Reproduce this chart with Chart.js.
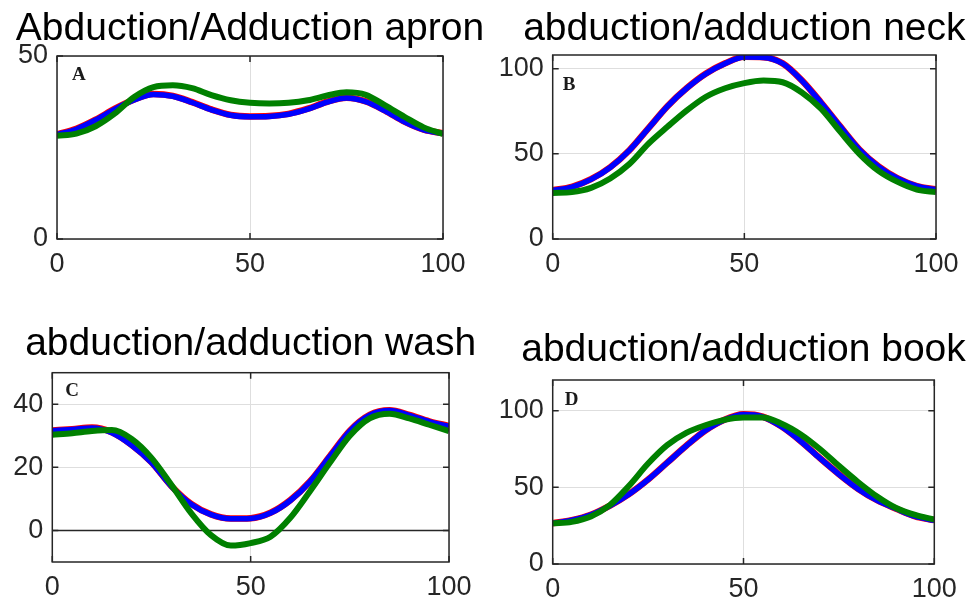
<!DOCTYPE html>
<html>
<head>
<meta charset="utf-8">
<script src="https://cdn.jsdelivr.net/npm/chart.js@4.4.0/dist/chart.umd.min.js"></script>
<style>
  html, body { margin: 0; padding: 0; background: #fff; }
  body { width: 973px; height: 601px; position: relative; overflow: hidden; }
  .panel { position: absolute; }
</style>
</head>
<body>
<div class="panel" style="left:0;top:0;width:490px;height:300px"><canvas id="chartA"></canvas></div>
<div class="panel" style="left:490px;top:0;width:483px;height:300px"><canvas id="chartB"></canvas></div>
<div class="panel" style="left:0;top:300px;width:490px;height:301px"><canvas id="chartC"></canvas></div>
<div class="panel" style="left:490px;top:300px;width:483px;height:301px"><canvas id="chartD"></canvas></div>
<script>
// x axis: % of movement cycle
const xPct = [0, 5, 10, 15, 20, 25, 30, 35, 40, 45, 50, 55, 60, 65, 70, 75, 80, 85, 90, 95, 100];
const xTicks = [0, 50, 100];

const titles = ['Abduction/Adduction apron', 'abduction/adduction neck', 'abduction/adduction wash', 'abduction/adduction book'];
const letters = ['A', 'B', 'C', 'D'];

// A - apron
const apronRed   = [28.6, 30.1, 32.6, 35.6, 38.1, 39.6, 39.1, 37.4, 35.4, 33.9, 33.5, 33.6, 34.2, 35.6, 37.5, 38.6, 37.6, 35.1, 32.1, 29.9, 28.9];
const apronBlue  = [28.5, 30, 32.5, 35.5, 38, 39.5, 39, 37.3, 35.3, 33.8, 33.4, 33.5, 34.1, 35.5, 37.4, 38.5, 37.5, 35, 32, 29.8, 28.8];
const apronGreen = [28.2, 28.8, 30.8, 34.3, 38.8, 41.5, 42, 41.2, 39.3, 37.9, 37.2, 37, 37.2, 37.9, 39.2, 40.1, 39.4, 36.5, 33.4, 30.5, 28.7];
const apronYRange = [0, 50];
const apronYTicks = [0, 50];

// B - neck
const neckRed   = [28.6, 30.6, 35.1, 42.1, 52.1, 65.1, 78.1, 88.6, 97.1, 103.1, 106.9, 106.7, 103.1, 93.1, 80.1, 66.1, 52.6, 42.6, 35.6, 31.1, 29.1];
const neckBlue  = [28.5, 30.5, 35, 42, 52, 65, 78, 88.5, 97, 103, 106.8, 106.6, 103, 93, 80, 66, 52.5, 42.5, 35.5, 31, 29];
const neckGreen = [27, 27.5, 30, 35.5, 44, 56, 66, 75.5, 83.5, 88.5, 91.5, 93, 92, 86, 76.5, 63, 50, 40, 33.5, 29, 27.5];
const neckYRange = [0, 108];
const neckYTicks = [0, 50, 100];

// C - wash
const washRed   = [31.7, 32.1, 32.6, 31.1, 27.1, 21.6, 14.1, 8.4, 5.1, 3.8, 3.9, 5.6, 9.6, 15.6, 23.6, 31.6, 36.6, 38.1, 36.6, 34.6, 33.1];
const washBlue  = [31.6, 32, 32.5, 31, 27, 21.5, 14, 8.3, 5, 3.7, 3.8, 5.5, 9.5, 15.5, 23.5, 31.5, 36.5, 38, 36.5, 34.5, 33];
const washGreen = [30.3, 30.8, 31.5, 31.8, 29, 23, 14.5, 5.5, -1.5, -4.8, -4, -2, 4, 12.5, 21.5, 30, 35.5, 37, 35.5, 33.5, 31.5];
const washZeroX = [0, 100];
const washZeroY = [0, 0];
const washYRange = [-10, 50];
const washYTicks = [0, 20, 40];

// D - book
const bookRed   = [26.6, 28.6, 32.1, 38.1, 45.6, 55.1, 66.1, 77.1, 87.1, 94.1, 97.6, 96.1, 89.6, 80.1, 69.1, 58.6, 49.1, 41.6, 36.1, 31.1, 28.6];
const bookBlue  = [26.5, 28.5, 32, 38, 45.5, 55, 66, 77, 87, 94, 97.5, 96, 89.5, 80, 69, 58.5, 49, 41.5, 36, 31, 28.5];
const bookGreen = [26.5, 27.5, 31, 38.5, 51, 65.5, 77.5, 85.5, 90.5, 94, 95.5, 95.5, 91.5, 84.5, 75, 64, 53.5, 44, 36.5, 32, 29];
const bookYRange = [0, 120];
const bookYTicks = [0, 50, 100];

const pts = (xs, ys) => xs.map((x, i) => ({ x: x, y: ys[i] }));

// box + inward ticks + panel letter, drawn over the curves like matlab does
const axesBox = {
  id: 'axesBox',
  afterLayout(chart) {
    // title box = plot width by default, which squeezes the long titles;
    // widen it but keep it centred over the plot
    const t = chart.titleBlock;
    const cx = (chart.chartArea.left + chart.chartArea.right) / 2;
    t.left = cx - 300;
    t.right = cx + 300;
    t.width = 600;
  },
  afterDatasetsDraw(chart, args, opts) {
    const { ctx, chartArea: a, scales } = chart;
    const tl = 6;
    ctx.save();
    ctx.strokeStyle = '#262626';
    ctx.lineWidth = 1.5;
    ctx.beginPath();
    scales.x.ticks.forEach(t => {
      const px = scales.x.getPixelForValue(t.value);
      ctx.moveTo(px, a.bottom); ctx.lineTo(px, a.bottom - tl);
      ctx.moveTo(px, a.top); ctx.lineTo(px, a.top + tl);
    });
    scales.y.ticks.forEach(t => {
      const py = scales.y.getPixelForValue(t.value);
      ctx.moveTo(a.left, py); ctx.lineTo(a.left + tl, py);
      ctx.moveTo(a.right, py); ctx.lineTo(a.right - tl, py);
    });
    ctx.stroke();
    ctx.strokeRect(a.left, a.top, a.right - a.left, a.bottom - a.top);
    ctx.fillStyle = '#1a1a1a';
    ctx.font = 'bold 19px "Liberation Serif", "Times New Roman", serif';
    ctx.textBaseline = 'alphabetic';
    ctx.fillText(opts.letter, a.left + opts.dx, a.top + opts.dy);
    ctx.restore();
  }
};

function makeChart(cfg) {
  const datasets = [
    { data: pts(xPct, cfg.green), borderColor: '#008000', borderWidth: 6 },
    { data: pts(xPct, cfg.blue), borderColor: '#0000ff', borderWidth: 5.5 },
    { data: pts(xPct, cfg.red), borderColor: '#ff0000', borderWidth: 6.5 }
  ];
  if (cfg.zero) {
    datasets.push({ data: pts(cfg.zero[0], cfg.zero[1]), borderColor: '#262626', borderWidth: 1.5, tension: 0 });
  }
  datasets.forEach(d => {
    d.pointRadius = 0;
    d.fill = false;
    d.clip = 0;
    if (d.tension === undefined) { d.tension = 0.4; d.cubicInterpolationMode = 'monotone'; }
  });

  return new Chart(document.getElementById(cfg.id), {
    type: 'line',
    data: { datasets: datasets },
    plugins: [axesBox],
    options: {
      responsive: true,
      maintainAspectRatio: false,
      animation: false,
      events: [],
      layout: { padding: { left: 0, right: cfg.rightPad, top: 0, bottom: 0 } },
      plugins: {
        legend: { display: false },
        tooltip: { enabled: false },
        title: {
          display: true,
          text: cfg.title,
          color: '#000',
          font: { family: '"Liberation Sans", Arial, sans-serif', size: 39, weight: 'normal' },
          padding: cfg.titlePad
        },
        axesBox: { letter: cfg.letter, dx: cfg.letterAt[0], dy: cfg.letterAt[1] }
      },
      scales: {
        x: {
          type: 'linear',
          min: 0,
          max: 100,
          afterBuildTicks: s => { s.ticks = xTicks.map(v => ({ value: v })); },
          afterFit: s => { s.height = cfg.xAxisH; },
          grid: { color: '#dedede', lineWidth: 1, drawTicks: false },
          border: { display: false },
          ticks: { color: '#262626', padding: 9, maxRotation: 0, font: { family: '"Liberation Sans", Arial, sans-serif', size: 27 } }
        },
        y: {
          min: cfg.yRange[0],
          max: cfg.yRange[1],
          afterBuildTicks: s => { s.ticks = cfg.yTicks.map(v => ({ value: v })); },
          afterFit: s => { s.width = cfg.plotLeft; },
          grid: { color: '#dedede', lineWidth: 1, drawTicks: false },
          border: { display: false },
          ticks: { color: '#262626', padding: 9, font: { family: '"Liberation Sans", Arial, sans-serif', size: 27 } }
        }
      }
    }
  });
}

makeChart({ id: 'chartA', title: titles[0], letter: letters[0], red: apronRed, blue: apronBlue, green: apronGreen,
  yRange: apronYRange, yTicks: apronYTicks, plotLeft: 57, rightPad: 47, xAxisH: 61,
  titlePad: { top: 5.6, bottom: 3.6 }, letterAt: [15, 24] });
makeChart({ id: 'chartB', title: titles[1], letter: letters[1], red: neckRed, blue: neckBlue, green: neckGreen,
  yRange: neckYRange, yTicks: neckYTicks, plotLeft: 62.7, rightPad: 37, xAxisH: 61,
  titlePad: { top: 5.6, bottom: 2.6 }, letterAt: [10, 35] });
makeChart({ id: 'chartC', title: titles[2], letter: letters[2], red: washRed, blue: washBlue, green: washGreen,
  zero: [washZeroX, washZeroY],
  yRange: washYRange, yTicks: washYTicks, plotLeft: 52.3, rightPad: 41, xAxisH: 39,
  titlePad: { top: 20.6, bottom: 5.3 }, letterAt: [13, 23] });
makeChart({ id: 'chartD', title: titles[3], letter: letters[3], red: bookRed, blue: bookBlue, green: bookGreen,
  yRange: bookYRange, yTicks: bookYTicks, plotLeft: 62.7, rightPad: 38.7, xAxisH: 37,
  titlePad: { top: 26.6, bottom: 6.6 }, letterAt: [12, 25] });
</script>
</body>
</html>
